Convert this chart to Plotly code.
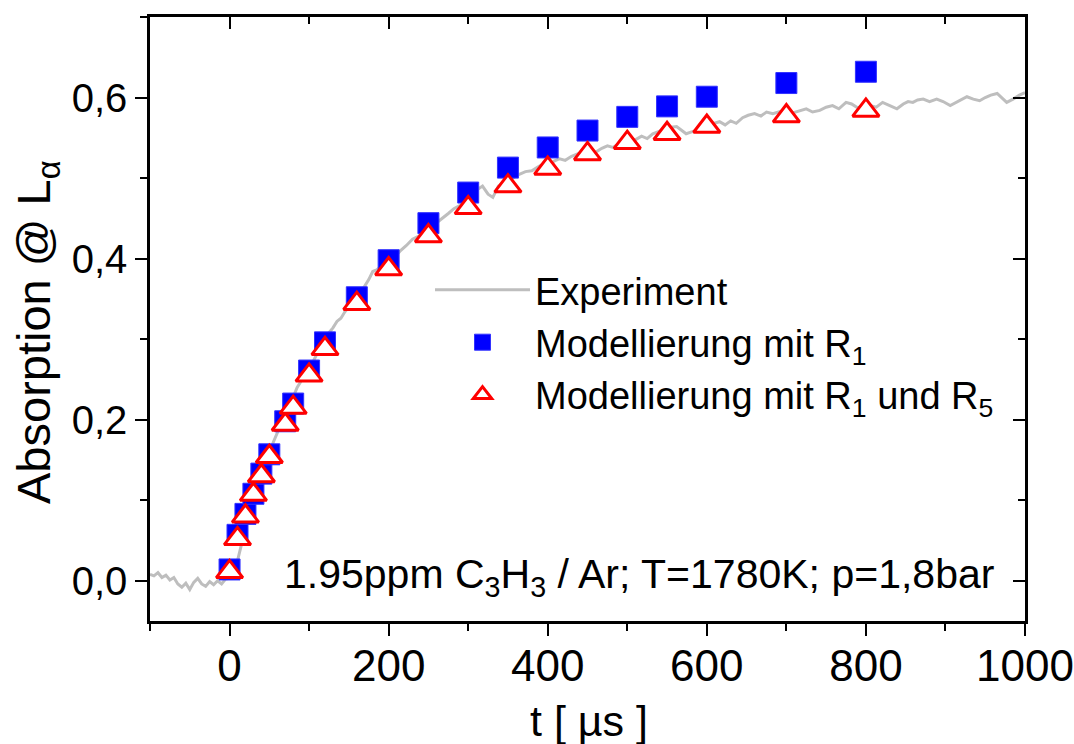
import plotly.graph_objects as go

# ---------------- data ----------------
t_exp = [-100, -95, -90, -85, -80, -75, -70, -65, -60, -55, -50, -45, -40, -35, -30, -25, -20, -15, -10, -5,
         0, 5, 10, 15, 20, 25, 30, 35, 40, 45, 50, 55, 60, 65, 70, 75, 80, 85, 90, 95,
         100, 105, 110, 115, 120, 125, 130, 135, 140, 145, 150, 155, 160, 165, 170, 175, 180, 185, 190, 195,
         200, 208, 215, 222, 230, 238, 245, 252, 260, 268, 275, 282, 290, 297, 305, 312, 318, 325, 331, 338,
         345, 352, 358, 365, 372, 380, 388, 395, 402, 408, 415, 422, 430, 438, 445, 452, 460, 468, 475, 482,
         490, 497, 504, 511, 518, 525, 532, 540, 548, 555, 562, 568, 574, 580, 587, 595, 602, 610, 616, 623,
         630, 637, 645, 652, 660, 668, 675, 683, 691, 700, 708, 717, 725, 733, 742, 750, 758, 766, 775, 782,
         790, 797, 805, 813, 821, 830, 839, 847, 853, 859, 865, 872, 880, 889, 897, 906, 913, 920, 927, 935,
         943, 950, 957, 965, 971, 977, 985, 993, 1000]
y_exp = [0.008, 0.006, 0.010, 0.004, 0.007, 0.001, 0.004, -0.004, -0.008, -0.003, -0.011, -0.002, 0.003, -0.004, -0.007, -0.001, -0.005, 0.000, -0.004, 0.002,
         0.003, 0.006, 0.025, 0.045, 0.065, 0.085, 0.100, 0.115, 0.130, 0.145, 0.158, 0.172, 0.184, 0.195, 0.205, 0.218, 0.228, 0.240, 0.248, 0.258,
         0.264, 0.272, 0.282, 0.292, 0.300, 0.308, 0.314, 0.322, 0.326, 0.334, 0.340, 0.346, 0.350, 0.358, 0.366, 0.374, 0.384, 0.386, 0.390, 0.394,
         0.398, 0.402, 0.410, 0.416, 0.424, 0.428, 0.432, 0.438, 0.444, 0.450, 0.456, 0.462, 0.466, 0.472, 0.478, 0.486, 0.490, 0.480, 0.476, 0.490,
         0.494, 0.498, 0.502, 0.505, 0.508, 0.509, 0.514, 0.518, 0.516, 0.521, 0.524, 0.522, 0.527, 0.530, 0.533, 0.534, 0.532, 0.537, 0.540, 0.538,
         0.543, 0.546, 0.544, 0.548, 0.552, 0.549, 0.555, 0.558, 0.561, 0.563, 0.564, 0.560, 0.555, 0.557, 0.559, 0.564, 0.566, 0.569, 0.570, 0.566,
         0.571, 0.568, 0.575, 0.578, 0.580, 0.577, 0.582, 0.580, 0.582, 0.585, 0.581, 0.584, 0.586, 0.582, 0.584, 0.588, 0.590, 0.586, 0.594, 0.592,
         0.587, 0.591, 0.590, 0.588, 0.594, 0.590, 0.586, 0.592, 0.595, 0.594, 0.597, 0.598, 0.595, 0.598, 0.595, 0.590, 0.594, 0.598, 0.601, 0.598,
         0.596, 0.600, 0.603, 0.605, 0.600, 0.594, 0.598, 0.603, 0.606]

t_model = [0, 10, 20, 30, 40, 50, 70, 80, 100, 120, 160, 200, 250, 300, 350, 400, 450, 500, 550, 600, 700, 800]
y_r1 = [0.014, 0.057, 0.083, 0.108, 0.133, 0.157, 0.198, 0.220, 0.261, 0.296, 0.352, 0.398, 0.444, 0.482,
        0.513, 0.538, 0.559, 0.576, 0.589, 0.601, 0.618, 0.632]
y_r1r5 = [0.011, 0.052, 0.080, 0.107, 0.130, 0.154, 0.194, 0.215, 0.255, 0.288, 0.344, 0.387, 0.428, 0.463,
          0.490, 0.512, 0.530, 0.544, 0.555, 0.564, 0.577, 0.584]

x_ticks = [0, 200, 400, 600, 800, 1000]
y_ticks = [0.0, 0.2, 0.4, 0.6]
y_ticklabels = ["0,0", "0,2", "0,4", "0,6"]

names = ["Experiment", "Modellierung mit R<sub>1</sub>", "Modellierung mit R<sub>1</sub> und R<sub>5</sub>"]
note = "1.95ppm C<sub>3</sub>H<sub>3</sub> / Ar; T=1780K; p=1,8bar"
x_title = "t [ µs ]"
y_title = "Absorption @ L<sub>α</sub>"

FONT = "Liberation Sans, Arial, Helvetica, sans-serif"

fig = go.Figure()
fig.add_trace(go.Scatter(x=t_exp, y=y_exp, mode="lines", name=names[0],
                         line=dict(color="#bebebe", width=3)))
fig.add_trace(go.Scatter(x=t_model, y=y_r1, mode="markers", name=names[1],
                         marker=dict(symbol="square", size=21, color="#0000ff",
                                     line=dict(color="#3333ff", width=1))))
fig.add_trace(go.Scatter(x=t_model, y=y_r1r5, mode="markers", name=names[2],
                         marker=dict(symbol="triangle-up", size=23, color="white",
                                     line=dict(color="#ff0000", width=3))))
# invisible trace to carry the top/right mirror axes
fig.add_trace(go.Scatter(x=[t_model[0]], y=[y_r1[0]], xaxis="x2", yaxis="y2",
                         mode="markers", marker=dict(opacity=0), showlegend=False, hoverinfo="skip"))

xr = [-100, 1000]
yr = [-0.05, 0.70]

fig.update_layout(
    width=1074, height=744,
    margin=dict(l=150, r=49, t=17, b=123, autoexpand=False),
    paper_bgcolor="white", plot_bgcolor="white",
    showlegend=True,
    legend=dict(x=0.32, y=0.60, xanchor="left", yanchor="top",
                bgcolor="rgba(0,0,0,0)", font=dict(family=FONT, size=38, color="black"),
                itemwidth=95, tracegroupgap=0),
    xaxis=dict(range=xr, tickvals=x_ticks, ticks="outside", ticklen=12, tickwidth=2,
               tickcolor="black", showline=True, linecolor="black", linewidth=2.5,
               showgrid=False, zeroline=False, automargin=False, ticklabelstandoff=-8,
               minor=dict(dtick=100, ticks="outside", ticklen=7, tickwidth=2, tickcolor="black", showgrid=False),
               tickfont=dict(family=FONT, size=44, color="black")),
    yaxis=dict(range=yr, tickvals=y_ticks, ticktext=y_ticklabels, ticks="outside", ticklen=12, tickwidth=2,
               tickcolor="black", showline=True, linecolor="black", linewidth=2.5,
               showgrid=False, zeroline=False, automargin=False,
               minor=dict(dtick=0.1, tick0=0, ticks="outside", ticklen=7, tickwidth=2, tickcolor="black", showgrid=False),
               tickfont=dict(family=FONT, size=40, color="black")),
    xaxis2=dict(range=xr, overlaying="x", side="top", tickvals=x_ticks, ticks="inside", ticklen=12, tickwidth=2,
                tickcolor="black", showticklabels=False, showgrid=False, zeroline=False, showline=True,
                linecolor="black", linewidth=2.5, automargin=False,
                minor=dict(dtick=100, ticks="inside", ticklen=7, tickwidth=2, tickcolor="black", showgrid=False)),
    yaxis2=dict(range=yr, overlaying="y", side="right", tickvals=y_ticks, ticks="inside", ticklen=12, tickwidth=2,
                tickcolor="black", showticklabels=False, showgrid=False, zeroline=False, showline=True,
                linecolor="black", linewidth=2.5, automargin=False,
                minor=dict(dtick=0.1, tick0=0, ticks="inside", ticklen=7, tickwidth=2, tickcolor="black", showgrid=False)),
    annotations=[
        dict(text=note, xref="paper", yref="paper", x=0.151, y=0.073, xanchor="left", yanchor="middle",
             showarrow=False, font=dict(family=FONT, size=41, color="black")),
        dict(text=x_title, xref="paper", yref="paper", x=0.502, y=0, yshift=-100, xanchor="center",
             yanchor="middle", showarrow=False, font=dict(family=FONT, size=43, color="black")),
        dict(text=y_title, xref="paper", yref="paper", x=0, xshift=-113, y=0.5, yshift=-13,
             xanchor="center", yanchor="middle", textangle=-90, showarrow=False,
             font=dict(family=FONT, size=47, color="black")),
    ],
)

fig.write_html("out.html", config={"displayModeBar": False},
               post_script="document.body.style.margin='0';document.body.style.overflow='hidden';")
